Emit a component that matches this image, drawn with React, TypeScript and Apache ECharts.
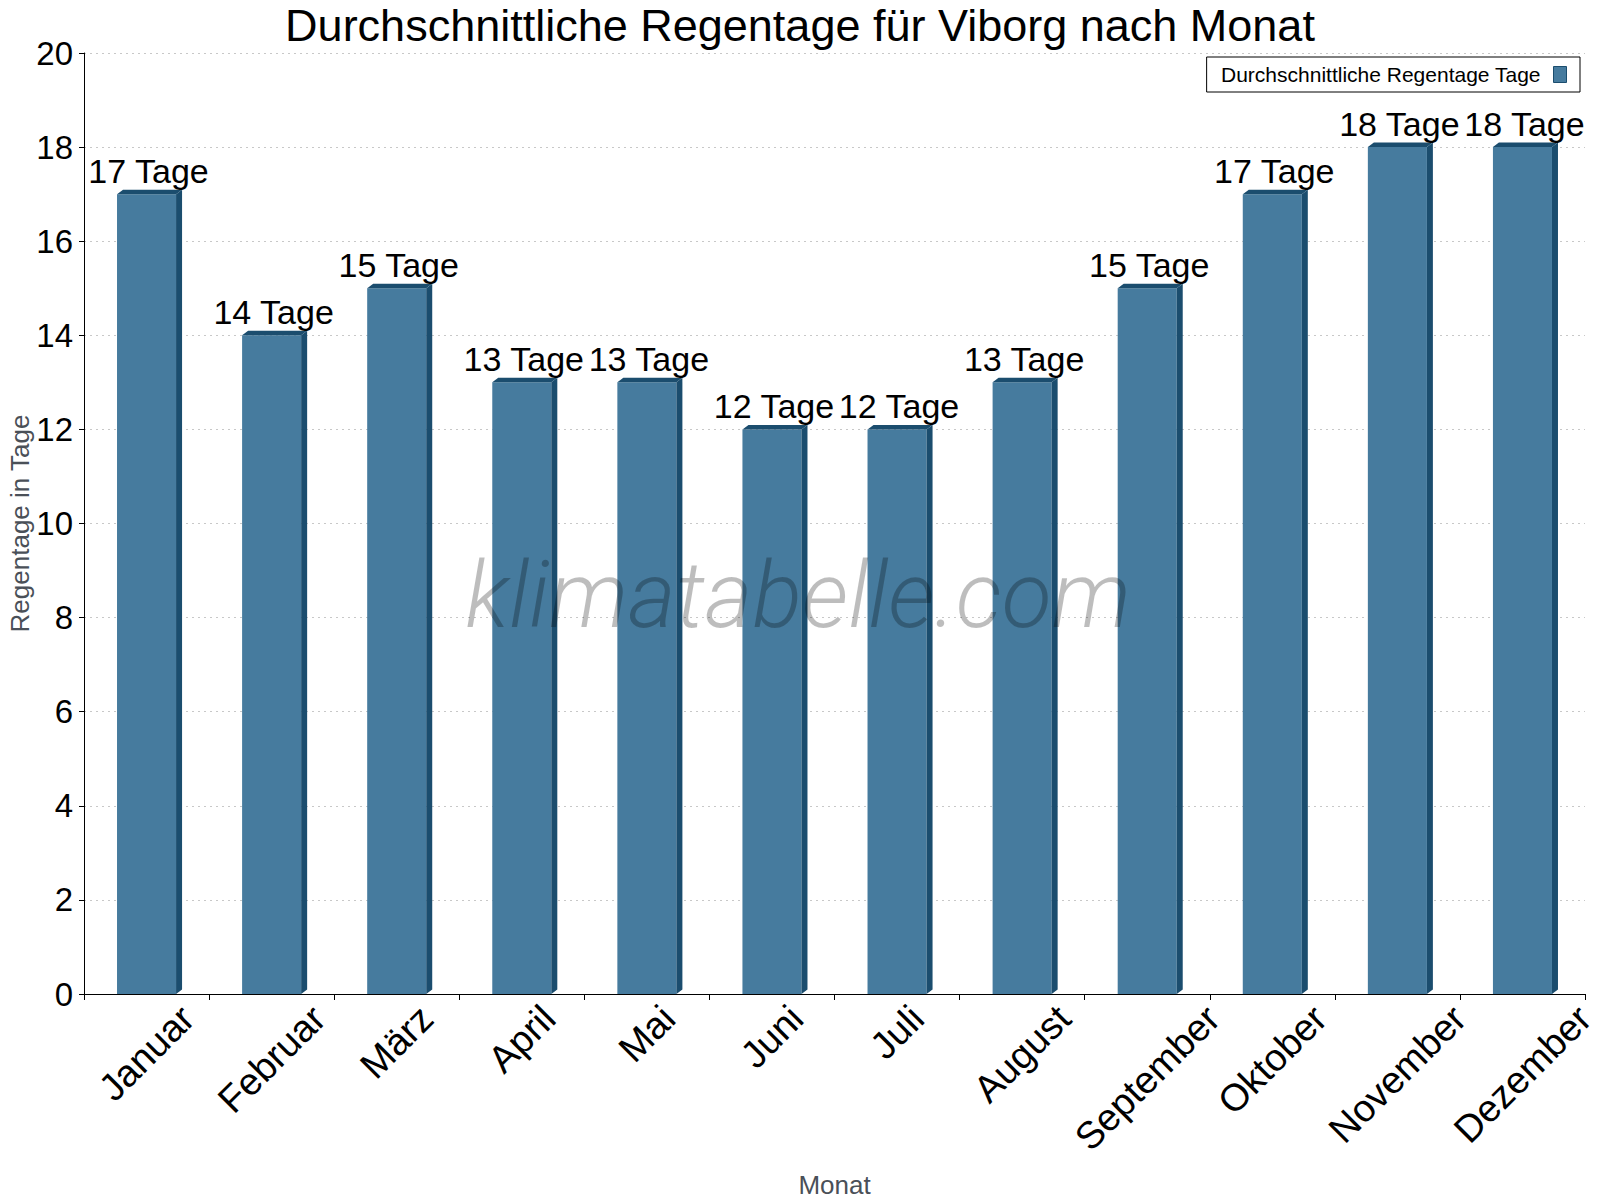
import React, { useEffect, useRef } from "react";
import * as echarts from "echarts";

const months = ["Januar", "Februar", "März", "April", "Mai", "Juni", "Juli", "August", "September", "Oktober", "November", "Dezember"];
const rainDays = [17, 14, 15, 13, 13, 12, 12, 13, 15, 17, 18, 18];
const yMin = 0;
const yMax = 20;
const yInterval = 2;
const titleText = "Durchschnittliche Regentage für Viborg nach Monat";
const seriesName = "Durchschnittliche Regentage Tage";
const unit = "Tage";

const FONT = "Arial, 'Liberation Sans', Helvetica, sans-serif";
const FRONT = "#467b9e";
const DARK = "#1b4d6e";
const XLABEL_SIZE = 38;

function measure(text: string, size: number) {
  const c = document.createElement("canvas");
  const ctx = c.getContext("2d");
  if (!ctx) return text.length * size * 0.55;
  ctx.font = `${size}px ${FONT}`;
  return ctx.measureText(text).width;
}

export default function App() {
  const ref = useRef<HTMLDivElement>(null);
  useEffect(() => {
    if (!ref.current) return;
    const chart = echarts.init(ref.current, null, { renderer: "svg" });
    const margin = 10;
    const rich: Record<string, any> = {};
    months.forEach((m, i) => {
      const L = measure(m, XLABEL_SIZE);
      const d = 18 + 0.354 * L - margin;
      const p = Math.max(0, d * 1.414);
      rich["l" + i] = { fontSize: XLABEL_SIZE, fontFamily: FONT, color: "#000", padding: [p, p, 0, 0] };
    });

    const option: any = {
      animation: false,
      backgroundColor: "#fff",
      title: {
        text: titleText,
        left: "center",
        top: 3,
        padding: 0,
        textStyle: { fontSize: 45, lineHeight: 45, fontWeight: "normal", color: "#000", fontFamily: FONT },
      },
      legend: {
        right: 20,
        top: 57,
        align: "right",
        itemWidth: 13,
        itemHeight: 16,
        padding: [7, 13, 7, 14],
        borderColor: "#000",
        borderWidth: 1,
        borderRadius: 0,
        backgroundColor: "#fff",
        textStyle: { fontSize: 21, color: "#000", fontFamily: FONT, padding: [0, 8, 0, 0] },
        data: [{ name: seriesName, icon: "rect", itemStyle: { color: FRONT, borderColor: DARK, borderWidth: 1 } }],
      },
      grid: { left: 84, right: 15, top: 53, bottom: 206, containLabel: false, outerBoundsMode: "none" },
      xAxis: {
        type: "category",
        data: months,
        boundaryGap: true,
        name: "Monat",
        nameLocation: "middle",
        nameGap: 178,
        nameMoveOverlap: false,
        nameTextStyle: { fontSize: 26, color: "#4a5058", fontFamily: FONT },
        axisLine: { lineStyle: { color: "#000", width: 1 } },
        axisTick: { show: true, length: 6, interval: 0, lineStyle: { color: "#000" } },
        axisLabel: {
          interval: 0,
          rotate: 45,
          align: "center",
          verticalAlign: "middle",
          margin,
          fontSize: XLABEL_SIZE,
          fontFamily: FONT,
          color: "#000",
          formatter: (v: string, i: number) => `{l${i}|${v}}`,
          rich,
        },
        splitLine: { show: false },
      },
      yAxis: {
        type: "value",
        min: yMin,
        max: yMax,
        interval: yInterval,
        name: "Regentage in Tage",
        nameLocation: "middle",
        nameGap: 51,
        nameMoveOverlap: false,
        nameTextStyle: { fontSize: 26, color: "#4a5058", fontFamily: FONT },
        axisLine: { show: true, lineStyle: { color: "#000", width: 1 } },
        axisTick: { show: true, length: 5, lineStyle: { color: "#000" } },
        axisLabel: { fontSize: 33, color: "#000", fontFamily: FONT, margin: 11 },
        splitLine: { show: true, lineStyle: { color: "#c8c8c8", type: [2, 4], width: 1 } },
      },
      graphic: [
        {
          type: "text",
          x: 798,
          y: 595,
          z: 100,
          silent: true,
          style: {
            text: "klimatabelle.com",
            fontFamily: "Roboto",
            fontStyle: "italic",
            fontWeight: 300,
            fontSize: 92,
            fill: "rgba(0,0,0,0.26)",
            align: "center",
            verticalAlign: "middle",
          },
        },
      ],
      series: [
        {
          name: seriesName,
          type: "custom",
          itemStyle: { color: FRONT },
          data: rainDays.map((v, i) => [i, v]),
          encode: { x: 0, y: 1 },
          renderItem: (params: any, api: any) => {
            const idx = api.value(0);
            const v = api.value(1);
            const top = api.coord([idx, v]);
            const base = api.coord([idx, 0]);
            const band = api.size([1, 0])[0];
            const w = band * 0.472;
            const x0 = top[0] - w / 2;
            const x1 = x0 + w;
            const dx = 6;
            const dy = 4.5;
            return {
              type: "group",
              children: [
                {
                  type: "rect",
                  shape: { x: x0, y: top[1], width: w, height: base[1] - top[1] },
                  style: { fill: FRONT },
                },
                {
                  type: "polygon",
                  shape: { points: [[x0, top[1]], [x1, top[1]], [x1 + dx, top[1] - dy], [x0 + dx, top[1] - dy]] },
                  style: { fill: DARK },
                },
                {
                  type: "polygon",
                  shape: { points: [[x1, top[1]], [x1 + dx, top[1] - dy], [x1 + dx, base[1] - dy], [x1, base[1]]] },
                  style: { fill: DARK },
                },
                {
                  type: "text",
                  x: top[0] + 2,
                  y: top[1] - 6,
                  style: {
                    text: `${v} ${unit}`,
                    fontSize: 34,
                    fontFamily: FONT,
                    fill: "#000",
                    align: "center",
                    verticalAlign: "bottom",
                  },
                },
              ],
            };
          },
        },
      ],
    };
    chart.setOption(option);
    return () => chart.dispose();
  }, []);
  return <div ref={ref} style={{ position: "absolute", left: 0, top: 0, width: 1600, height: 1200 }} />;
}
